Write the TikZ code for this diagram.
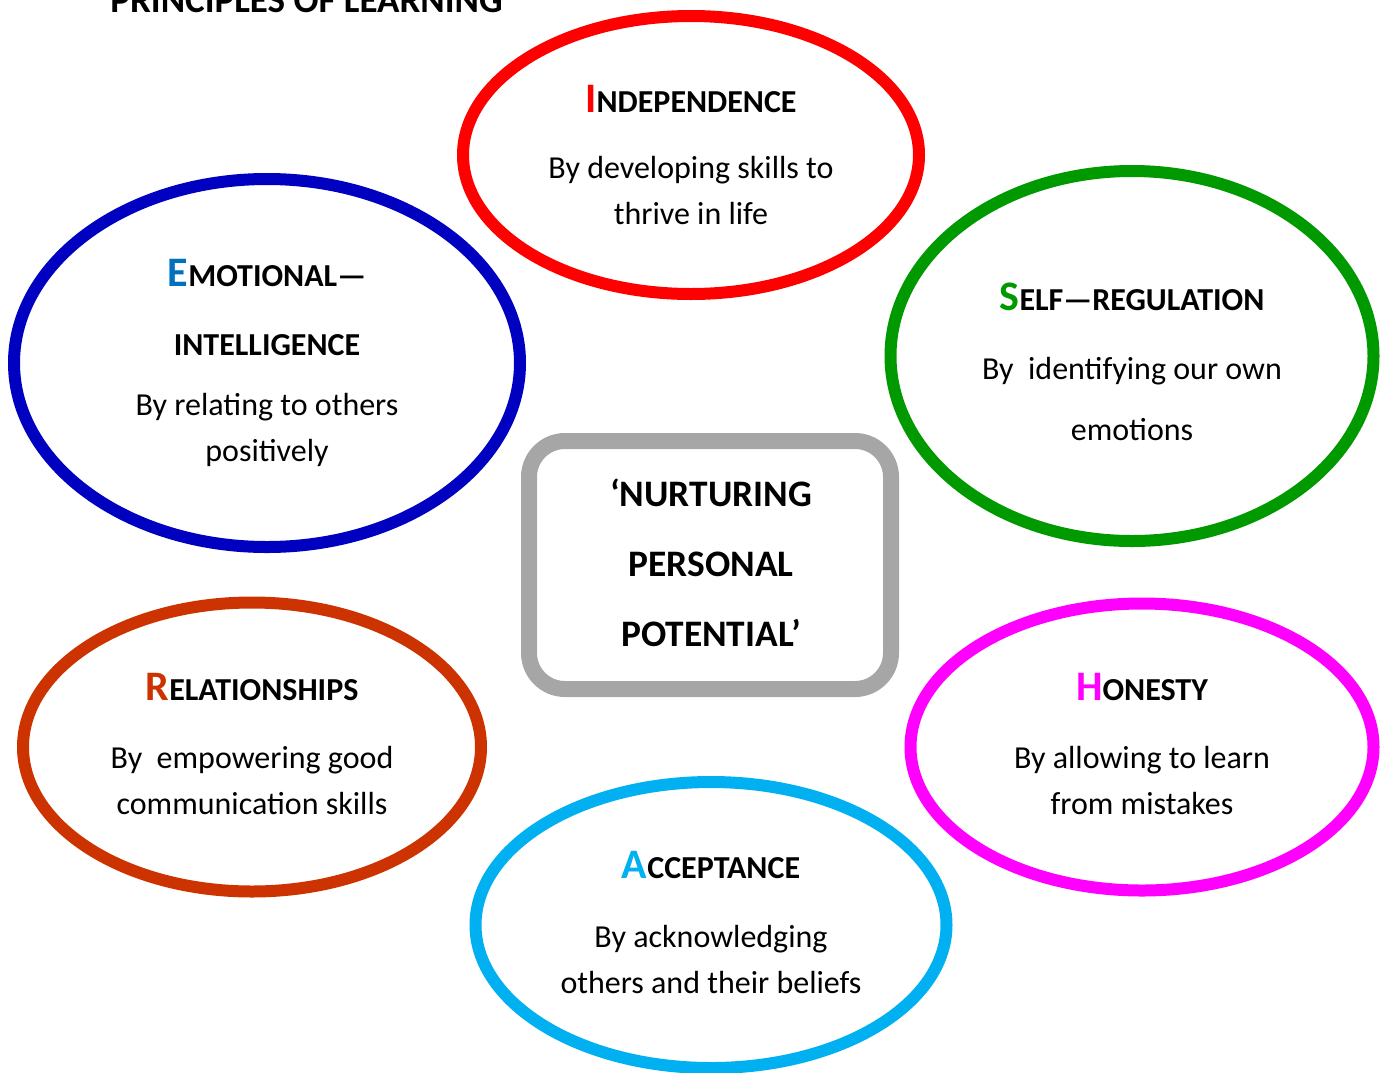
\documentclass[tikz,border=0pt]{standalone}
\usepackage{fontspec}
\setmainfont{Carlito}
\usetikzlibrary{shapes.geometric,positioning}

\definecolor{indepred}{HTML}{FF0000}
\definecolor{emotblue}{HTML}{0000C0}
\definecolor{emotletter}{HTML}{0070C0}
\definecolor{selfgreen}{HTML}{009900}
\definecolor{relatorange}{HTML}{CC3300}
\definecolor{honmagenta}{HTML}{FF00FF}
\definecolor{acceptcyan}{HTML}{00B0F0}
\definecolor{coregray}{HTML}{A6A6A6}

% first letter large and coloured, the rest in bold capitals
\newcommand{\capword}[3]{{\fontsize{21}{24}\selectfont\color{#1}#2}{\fontsize{16}{24}\selectfont #3}}

\tikzset{ring/.style = {shape = ellipse,
                        line width = 6pt,
                        inner sep = 0pt,
                        draw},
         heading/.style = {font = \bfseries,
                           align = center,
                           inner sep = 0pt},
         body/.style = {font = \fontsize{16}{23}\selectfont,
                        align = center,
                        inner sep = 0pt}}

\begin{document}
\begin{tikzpicture}[x=0.5pt, y=-0.5pt]
    \clip (0,0) rectangle (1387,1072);
    \useasboundingbox (0,0) rectangle (1387,1072);

    % title, cut off at the top edge
    \node[anchor = base west, inner sep = 0pt, font = \bfseries\fontsize{18.5}{20}\selectfont]
        (title) at (110,12) {PRINCIPLES OF LEARNING};

    % rings
    \node[ring, draw = indepred, minimum width = 228pt, minimum height = 139pt] (indep) at (691,155) {};
    \node[ring, draw = emotblue, minimum width = 253pt, minimum height = 184pt] (emot) at (267,363) {};
    \node[ring, draw = selfgreen, minimum width = 241.5pt, minimum height = 185pt] (selfreg) at (1132,356) {};
    \node[ring, draw = relatorange, minimum width = 229pt, minimum height = 144.5pt] (relat) at (252,747) {};
    \node[ring, draw = honmagenta, minimum width = 231.5pt, minimum height = 143.5pt] (hon) at (1142,747) {};
    \node[ring, draw = acceptcyan, minimum width = 235.5pt, minimum height = 143pt] (accept) at (711,925) {};

    % centre box
    \node[draw = coregray, line width = 8pt, rounded corners = 18pt,
          minimum width = 181pt, minimum height = 124pt] (core) at (710,565) {};
    \node[heading, font = \bfseries\fontsize{18.7}{35}\selectfont] (coretext) at (711,563)
        {`NURTURING\\PERSONAL\\POTENTIAL'};

    % Independence
    \node[heading] (indephead) at (691,99) {\capword{indepred}{I}{NDEPENDENCE}};
    \node[body] (indepbody) at (691,191) {By developing skills to\\thrive in life};

    % Emotional intelligence
    \node[heading, font = \bfseries\fontsize{16}{34.5}\selectfont] (emothead) at (267,307)
        {\capword{emotletter}{E}{MOTIONAL—}\\INTELLIGENCE};
    \node[body] (emotbody) at (267,430) {By relating to others\\positively};

    % Self regulation
    \node[heading] (selfhead) at (1132,297) {\capword{selfgreen}{S}{ELF—REGULATION}};
    \node[body, font = \fontsize{16}{30.5}\selectfont] (selfbody) at (1132,399)
        {By\ \ identifying our own\\emotions};

    % Relationships
    \node[heading] (relathead) at (252,687) {\capword{relatorange}{R}{ELATIONSHIPS}};
    \node[body] (relatbody) at (252,780) {By\ \ empowering good\\communication skills};

    % Honesty
    \node[heading] (honhead) at (1142,687) {\capword{honmagenta}{H}{ONESTY}};
    \node[body] (honbody) at (1142,780) {By allowing to learn\\from mistakes};

    % Acceptance
    \node[heading] (accepthead) at (711,865) {\capword{acceptcyan}{A}{CCEPTANCE}};
    \node[body] (acceptbody) at (711,959) {By acknowledging\\others and their beliefs};
\end{tikzpicture}
\end{document}
